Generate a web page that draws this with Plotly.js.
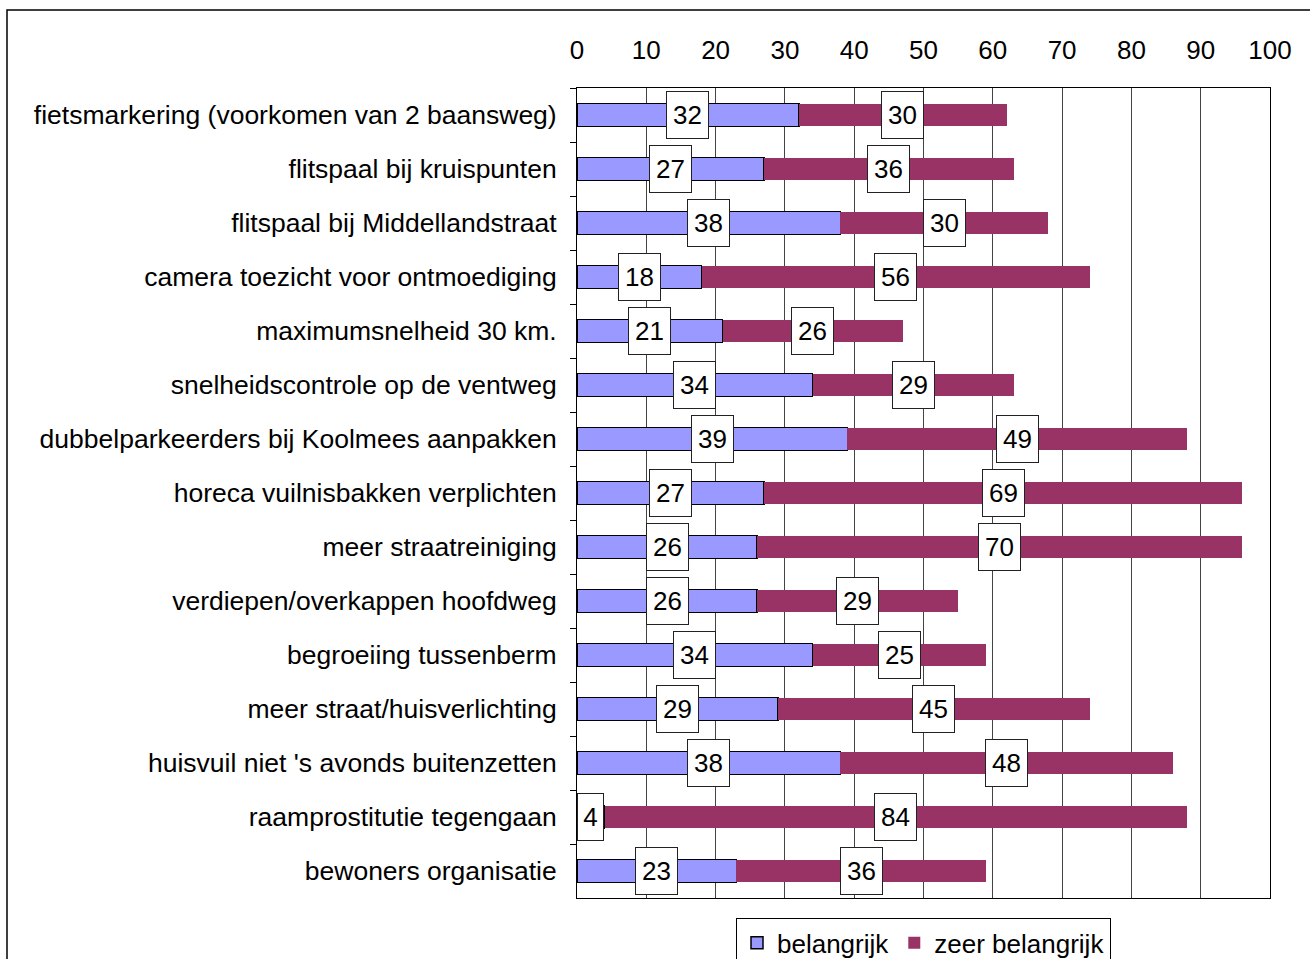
<!DOCTYPE html>
<html>
<head>
<meta charset="utf-8">
<script src="https://cdn.plot.ly/plotly-3.0.1.min.js"></script>
<style>html,body{margin:0;padding:0;background:#fff;}#chart{width:1310px;height:959px;}</style>
</head>
<body>
<div id="chart"></div>
<script>
const categories = [
  "fietsmarkering (voorkomen van 2 baansweg)",
  "flitspaal bij kruispunten",
  "flitspaal bij Middellandstraat",
  "camera toezicht voor ontmoediging",
  "maximumsnelheid 30 km.",
  "snelheidscontrole op de ventweg",
  "dubbelparkeerders bij Koolmees aanpakken",
  "horeca vuilnisbakken verplichten",
  "meer straatreiniging",
  "verdiepen/overkappen hoofdweg",
  "begroeiing tussenberm",
  "meer straat/huisverlichting",
  "huisvuil niet 's avonds buitenzetten",
  "raamprostitutie tegengaan",
  "bewoners organisatie"
];
const belangrijk = [32, 27, 38, 18, 21, 34, 39, 27, 26, 26, 34, 29, 38, 4, 23];
const zeerBelangrijk = [30, 36, 30, 56, 26, 29, 49, 69, 70, 29, 25, 45, 48, 84, 36];
const seriesNames = ["belangrijk", "zeer belangrijk"];
const tickVals = [0, 10, 20, 30, 40, 50, 60, 70, 80, 90, 100];

const FONT = "Arial, 'Liberation Sans', sans-serif";

const traces = [
  {
    type: "bar", orientation: "h", name: seriesNames[0],
    y: categories, x: belangrijk,
    marker: {color: "#9999FF", line: {color: "#000", width: 1.5}},
    hoverinfo: "skip"
  },
  {
    type: "bar", orientation: "h", name: seriesNames[1],
    y: categories, x: zeerBelangrijk,
    marker: {color: "#993366", line: {color: "#993366", width: 0}},
    hoverinfo: "skip"
  }
];

const annotations = [];
categories.forEach((c, i) => {
  const b = belangrijk[i], z = zeerBelangrijk[i];
  [[b / 2, b], [b + z / 2, z]].forEach(([pos, v]) => {
    annotations.push({
      x: pos, y: c, xref: "x", yref: "y", text: String(v), showarrow: false,
      font: {family: FONT, size: 26, color: "#000"},
      bgcolor: "#fff", bordercolor: "#222", borderwidth: 1, borderpad: 0,
      width: String(v).length > 1 ? 41 : 25, height: 46
    });
  });
});

const layout = {
  width: 1310, height: 959,
  margin: {l: 577, r: 40, t: 88, b: 61, autoexpand: false},
  paper_bgcolor: "#fff", plot_bgcolor: "#fff",
  font: {family: FONT, size: 26, color: "#000"},
  barmode: "stack", bargap: 0.58,
  showlegend: true,
  legend: {
    orientation: "h", x: 0.5, xanchor: "center", y: -0.025, yanchor: "top",
    traceorder: "normal",
    bordercolor: "#000", borderwidth: 1, bgcolor: "#fff",
    font: {family: FONT, size: 26, color: "#000"},
    itemwidth: 30, tracegroupgap: 0
  },
  xaxis: {
    side: "top", range: [0, 100], tickvals: tickVals, ticktext: tickVals.map(String),
    showgrid: true, gridcolor: "#444", gridwidth: 1,
    showline: true, linecolor: "#000", linewidth: 1, mirror: true,
    ticks: "", zeroline: false, ticklabelstandoff: 18,
    tickfont: {family: FONT, size: 26, color: "#000"}, fixedrange: true
  },
  yaxis: {
    type: "category", autorange: "reversed",
    showline: true, linecolor: "#000", linewidth: 1, mirror: true,
    ticks: "outside", ticklen: 6, tickcolor: "#000", tickson: "boundaries",
    showgrid: false, ticklabelstandoff: 14,
    tickfont: {family: FONT, size: 26.5, color: "#000"}, fixedrange: true
  },
  annotations: annotations,
  shapes: [{
    type: "rect", xref: "paper", yref: "paper", layer: "below",
    x0: (7 - 577) / 693, x1: 1.2, y0: (898 - 10) / 810, y1: -0.3,
    line: {color: "#000", width: 1.5}, fillcolor: "rgba(0,0,0,0)"
  }]
};

Plotly.newPlot("chart", traces, layout, {displayModeBar: false, staticPlot: true});
</script>
</body>
</html>
